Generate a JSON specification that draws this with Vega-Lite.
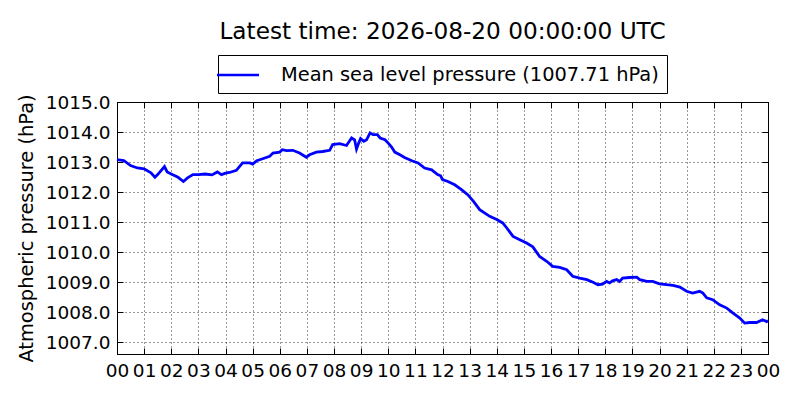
{
  "$schema": "https://vega.github.io/schema/vega-lite/v6.json",
  "autosize": {"type": "none"},
  "padding": {"left": 117, "top": 102, "right": 32, "bottom": 46},
  "width": 651,
  "height": 252,
  "background": "white",
  "config": {
    "font": "DejaVu Sans",
    "view": {"stroke": "black", "strokeWidth": 1},
    "axis": {
      "domainColor": "black", "domainWidth": 1,
      "tickColor": "black", "tickWidth": 1,
      "labelColor": "black", "titleColor": "black",
      "gridColor": "black", "gridDash": [1, 3], "gridWidth": 1, "gridOpacity": 0.8
    }
  },
  "title": {
    "text": "Latest time: 2026-08-20 00:00:00 UTC",
    "frame": "group", "anchor": "middle", "baseline": "alphabetic",
    "offset": 13, "dy": 21, "fontSize": 23.2, "fontWeight": "normal", "color": "black", "font": "DejaVu Sans"
  },
  "data": {"values": [
    {"h": 0.0, "p": 1013.08}, {"h": 0.25, "p": 1013.05}, {"h": 0.5, "p": 1012.88}, {"h": 0.75, "p": 1012.80},
    {"h": 1.0, "p": 1012.77}, {"h": 1.25, "p": 1012.64}, {"h": 1.4, "p": 1012.49}, {"h": 1.5, "p": 1012.58},
    {"h": 1.6, "p": 1012.69}, {"h": 1.75, "p": 1012.85}, {"h": 1.85, "p": 1012.67}, {"h": 2.0, "p": 1012.60},
    {"h": 2.25, "p": 1012.49}, {"h": 2.45, "p": 1012.35}, {"h": 2.6, "p": 1012.47}, {"h": 2.8, "p": 1012.58},
    {"h": 3.0, "p": 1012.58}, {"h": 3.25, "p": 1012.60}, {"h": 3.5, "p": 1012.57}, {"h": 3.7, "p": 1012.67},
    {"h": 3.85, "p": 1012.58}, {"h": 4.0, "p": 1012.63}, {"h": 4.15, "p": 1012.65}, {"h": 4.4, "p": 1012.72},
    {"h": 4.63, "p": 1012.97}, {"h": 4.9, "p": 1012.97}, {"h": 5.0, "p": 1012.93}, {"h": 5.15, "p": 1013.04},
    {"h": 5.37, "p": 1013.11}, {"h": 5.63, "p": 1013.19}, {"h": 5.75, "p": 1013.30}, {"h": 6.0, "p": 1013.33},
    {"h": 6.09, "p": 1013.41}, {"h": 6.25, "p": 1013.38}, {"h": 6.48, "p": 1013.39}, {"h": 6.73, "p": 1013.30},
    {"h": 6.98, "p": 1013.16}, {"h": 7.1, "p": 1013.24}, {"h": 7.35, "p": 1013.33}, {"h": 7.58, "p": 1013.35},
    {"h": 7.84, "p": 1013.39}, {"h": 7.95, "p": 1013.58}, {"h": 8.21, "p": 1013.61}, {"h": 8.46, "p": 1013.55},
    {"h": 8.65, "p": 1013.80}, {"h": 8.76, "p": 1013.74}, {"h": 8.83, "p": 1013.43}, {"h": 8.91, "p": 1013.63},
    {"h": 8.98, "p": 1013.78}, {"h": 9.1, "p": 1013.69}, {"h": 9.2, "p": 1013.74}, {"h": 9.33, "p": 1013.97},
    {"h": 9.44, "p": 1013.91}, {"h": 9.6, "p": 1013.91}, {"h": 9.7, "p": 1013.80}, {"h": 9.88, "p": 1013.74},
    {"h": 10.0, "p": 1013.63}, {"h": 10.13, "p": 1013.49}, {"h": 10.24, "p": 1013.33}, {"h": 10.43, "p": 1013.24},
    {"h": 10.6, "p": 1013.15}, {"h": 10.87, "p": 1013.04}, {"h": 11.1, "p": 1012.97}, {"h": 11.34, "p": 1012.80},
    {"h": 11.6, "p": 1012.74}, {"h": 11.82, "p": 1012.58}, {"h": 11.93, "p": 1012.54}, {"h": 12.0, "p": 1012.41},
    {"h": 12.2, "p": 1012.35}, {"h": 12.45, "p": 1012.24}, {"h": 12.7, "p": 1012.08}, {"h": 12.93, "p": 1011.91},
    {"h": 13.15, "p": 1011.68}, {"h": 13.37, "p": 1011.41}, {"h": 13.74, "p": 1011.19}, {"h": 14.0, "p": 1011.08},
    {"h": 14.22, "p": 1010.97}, {"h": 14.37, "p": 1010.80}, {"h": 14.6, "p": 1010.52}, {"h": 14.85, "p": 1010.41},
    {"h": 15.1, "p": 1010.30}, {"h": 15.33, "p": 1010.17}, {"h": 15.58, "p": 1009.85}, {"h": 15.84, "p": 1009.69},
    {"h": 16.06, "p": 1009.52}, {"h": 16.32, "p": 1009.49}, {"h": 16.58, "p": 1009.41}, {"h": 16.8, "p": 1009.19},
    {"h": 17.06, "p": 1009.13}, {"h": 17.32, "p": 1009.08}, {"h": 17.55, "p": 1008.99}, {"h": 17.73, "p": 1008.91},
    {"h": 17.9, "p": 1008.93}, {"h": 18.05, "p": 1009.02}, {"h": 18.16, "p": 1008.97}, {"h": 18.27, "p": 1009.04},
    {"h": 18.42, "p": 1009.08}, {"h": 18.53, "p": 1009.02}, {"h": 18.64, "p": 1009.13}, {"h": 18.9, "p": 1009.15},
    {"h": 19.16, "p": 1009.16}, {"h": 19.27, "p": 1009.08}, {"h": 19.53, "p": 1009.02}, {"h": 19.75, "p": 1009.02},
    {"h": 20.0, "p": 1008.94}, {"h": 20.27, "p": 1008.91}, {"h": 20.5, "p": 1008.89}, {"h": 20.75, "p": 1008.83},
    {"h": 21.0, "p": 1008.69}, {"h": 21.22, "p": 1008.63}, {"h": 21.48, "p": 1008.69}, {"h": 21.6, "p": 1008.63},
    {"h": 21.74, "p": 1008.47}, {"h": 21.96, "p": 1008.41}, {"h": 22.22, "p": 1008.24}, {"h": 22.48, "p": 1008.13},
    {"h": 22.7, "p": 1007.97}, {"h": 22.96, "p": 1007.80}, {"h": 23.14, "p": 1007.63}, {"h": 23.33, "p": 1007.65},
    {"h": 23.58, "p": 1007.65}, {"h": 23.8, "p": 1007.74}, {"h": 23.95, "p": 1007.68}, {"h": 24.0, "p": 1007.71}
  ]},
  "layer": [
    {
      "mark": {"type": "point", "opacity": 0},
      "encoding": {
        "x": {"field": "h", "type": "quantitative",
          "scale": {"domain": [0, 24], "nice": false, "zero": false},
          "axis": {"orient": "top", "title": null, "labels": false, "grid": false, "tickSize": -6,
            "values": [0,1,2,3,4,5,6,7,8,9,10,11,12,13,14,15,16,17,18,19,20,21,22,23,24]}},
        "y": {"field": "p", "type": "quantitative",
          "scale": {"domain": [1006.6, 1015], "nice": false, "zero": false},
          "axis": {"orient": "right", "title": null, "labels": false, "grid": false, "tickSize": -6,
            "values": [1007,1008,1009,1010,1011,1012,1013,1014,1015]}}
      }
    },
    {
      "mark": {"type": "line", "strokeWidth": 2.8, "interpolate": "linear"},
      "encoding": {
        "x": {"field": "h", "type": "quantitative",
          "scale": {"domain": [0, 24], "nice": false, "zero": false},
          "axis": {"orient": "bottom", "title": null, "grid": true, "tickSize": -6, "labelPadding": 13,
            "labelFontSize": 18.5, "labelFlush": false, "labelOverlap": false,
            "values": [0,1,2,3,4,5,6,7,8,9,10,11,12,13,14,15,16,17,18,19,20,21,22,23,24],
            "labelExpr": "(datum.value % 24 < 10 ? '0' : '') + (datum.value % 24)"}},
        "y": {"field": "p", "type": "quantitative",
          "scale": {"domain": [1006.6, 1015], "nice": false, "zero": false},
          "axis": {"orient": "left", "title": "Atmospheric pressure (hPa)", "grid": true, "tickSize": -6,
            "labelPadding": 13, "labelFontSize": 18.5, "labelFlush": false, "labelOverlap": false, "format": ".1f",
            "titleFontSize": 19.4, "titleFontWeight": "normal", "titlePadding": 9,
            "values": [1007,1008,1009,1010,1011,1012,1013,1014,1015]}},
        "color": {"datum": "Mean sea level pressure (1007.71 hPa)", "type": "nominal",
          "scale": {"range": ["#0000ff"]},
          "legend": {"orient": "none", "legendX": 101, "legendY": -47, "title": null,
            "symbolType": "M-2,0L2,0", "symbolSize": 441, "symbolStrokeWidth": 2.5,
            "labelFontSize": 19.4, "labelColor": "black", "labelOffset": 31, "labelLimit": 600,
            "strokeColor": "black", "fillColor": "white", "padding": 8, "cornerRadius": 0}}
      }
    }
  ],
  "resolve": {"axis": {"x": "independent", "y": "independent"}}
}
